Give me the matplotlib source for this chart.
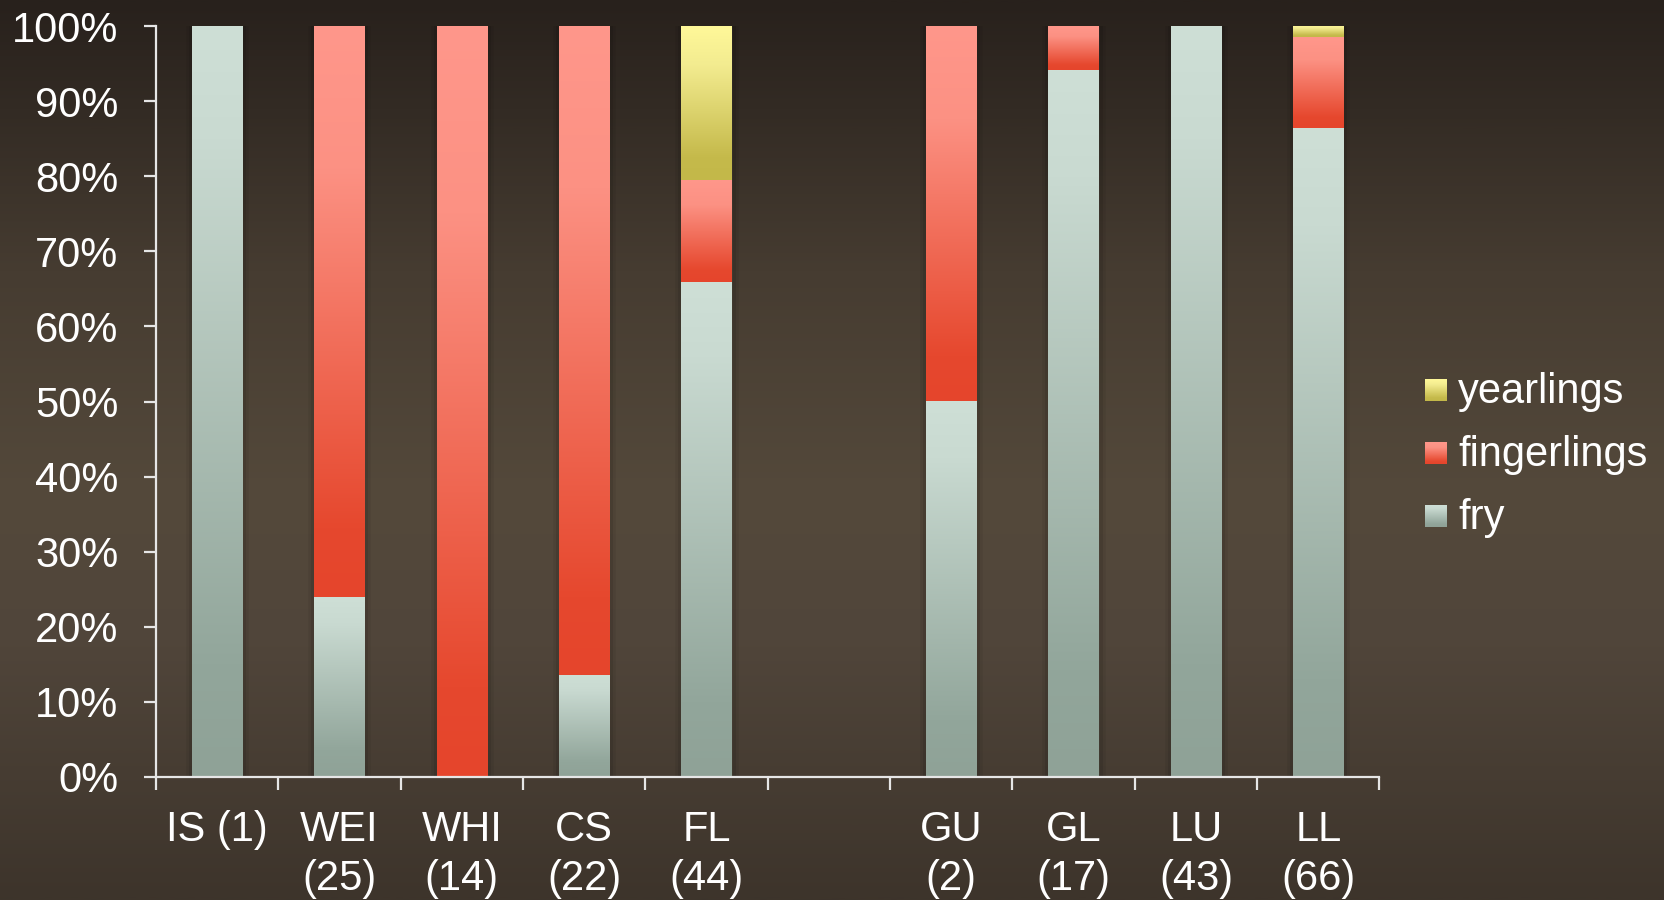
import numpy as np
import matplotlib
matplotlib.use("Agg")
import matplotlib.pyplot as plt
from matplotlib.colors import LinearSegmentedColormap
from matplotlib.patches import Rectangle
import matplotlib.patheffects as pe

plt.rcParams['font.family'] = ['Liberation Sans', 'DejaVu Sans']

# Stock composition (% of fish released), blank slot separates the two groups
categories = ["IS (1)", "WEI\n(25)", "WHI\n(14)", "CS\n(22)", "FL\n(44)", "",
              "GU\n(2)", "GL\n(17)", "LU\n(43)", "LL\n(66)"]
fry = [100.0, 24.0, 0.0, 13.6, 65.9, 0.0, 50.0, 94.1, 100.0, 86.4]
fingerlings = [0.0, 76.0, 100.0, 86.4, 13.6, 0.0, 50.0, 5.9, 0.0, 12.1]
yearlings = [0.0, 0.0, 0.0, 0.0, 20.5, 0.0, 0.0, 0.0, 0.0, 1.5]
series_names = ["fry", "fingerlings", "yearlings"]
y_ticks = [0, 10, 20, 30, 40, 50, 60, 70, 80, 90, 100]

W, H, DPI = 1665, 900, 100
fig = plt.figure(figsize=(W / DPI, H / DPI), dpi=DPI)

# Background: vertical brown gradient
bg = fig.add_axes([0, 0, 1, 1], zorder=-10)
bg_cmap = LinearSegmentedColormap.from_list(
    "bg", [(0.0, "#28211c"), (0.12, "#332b24"), (0.30, "#463c31"),
           (0.55, "#54493b"), (0.72, "#50453a"), (1.0, "#3d342b")])
bg.imshow(np.linspace(0, 1, 512).reshape(-1, 1), cmap=bg_cmap, aspect="auto",
          extent=[0, 1, 0, 1], origin="upper")
bg.set_axis_off()

# Segment gradients (top colour -> bottom colour)
grad = {
    "fry": LinearSegmentedColormap.from_list(
        "fry", [(0.0, "#cedfd6"), (0.15, "#c9dad1"), (0.85, "#92a69b"), (1.0, "#8fa297")]),
    "fingerlings": LinearSegmentedColormap.from_list(
        "fing", [(0.0, "#ff978b"), (0.25, "#fc9183"), (0.88, "#e6482e"), (1.0, "#e5452c")]),
    "yearlings": LinearSegmentedColormap.from_list(
        "year", [(0.0, "#fff899"), (0.25, "#f3ec90"), (0.85, "#c5ba4b"), (1.0, "#c3b849")]),
}

ax = fig.add_axes([155.8 / W, 1 - 777 / H, (1379.5 - 155.8) / W, (777 - 26) / H])
ax.set_facecolor("none")
x = np.arange(len(categories))

bar_w = 0.41
vals = {"fry": fry, "fingerlings": fingerlings, "yearlings": yearlings}
gimg = np.linspace(0, 1, 256).reshape(-1, 1)
shadow = [pe.Stroke(linewidth=9, foreground="black", alpha=0.06),
          pe.Stroke(linewidth=5, foreground="black", alpha=0.08),
          pe.Normal()]

# Soft shadow behind each full bar
totals = np.array(fry) + np.array(fingerlings) + np.array(yearlings)
for i in x:
    if totals[i] > 0:
        r = Rectangle((i - bar_w / 2, 0), bar_w, totals[i], facecolor="#8fa297",
                      edgecolor="none", zorder=2)
        r.set_path_effects(shadow)
        ax.add_patch(r)

# Stacked segments, each filled with its own vertical gradient
base = np.zeros(len(categories))
for name in series_names:
    v = np.array(vals[name])
    for i in x:
        if v[i] <= 0:
            continue
        x0, x1 = i - bar_w / 2, i + bar_w / 2
        y0, y1 = base[i], base[i] + v[i]
        ax.imshow(gimg, cmap=grad[name], aspect="auto", origin="upper",
                  extent=[x0, x1, y0, y1], zorder=3, interpolation="bilinear")
    base += v
ax.set_xlim(-0.5, len(categories) - 0.5)
ax.set_ylim(0, 100)

# Axes styling
axis_col = "#e6e6e6"
for s in ["top", "right"]:
    ax.spines[s].set_visible(False)
for s in ["left", "bottom"]:
    ax.spines[s].set_color(axis_col)
    ax.spines[s].set_linewidth(1.6)
    ax.spines[s].set_zorder(5)

ax.set_yticks(y_ticks)
ax.set_yticklabels([f"{t}%" for t in y_ticks])
ax.tick_params(axis="y", direction="out", length=9, width=1.6, color=axis_col,
               labelcolor="white", labelsize=30, pad=18)

ax.set_xticks(np.arange(-0.5, len(categories)), minor=False)
ax.set_xticklabels([])
ax.tick_params(axis="x", which="major", direction="out", length=9.5, width=1.6,
               color=axis_col)
ax.set_xticks(x, minor=True)
ax.set_xticklabels(categories, minor=True)
ax.tick_params(axis="x", which="minor", length=0, labelcolor="white",
               labelsize=30, pad=24)
for lbl in ax.get_xticklabels(minor=True):
    lbl.set_linespacing(1.28)

# Legend drawn in pixel coordinates
lg = fig.add_axes([0, 0, 1, 1], zorder=10)
lg.set_axis_off()
lg.patch.set_visible(False)
legend_rows = ["yearlings", "fingerlings", "fry"]
for k, name in enumerate(legend_rows):
    cy = 390 + 63 * k
    lg.imshow(gimg, cmap=grad[name], aspect="auto", origin="upper",
              extent=[1425, 1447, cy + 11, cy - 11], interpolation="bilinear")
    lg.text(1458, cy + 13, name, color="white", fontsize=30, va="baseline", ha="left")
lg.set_xlim(0, W)
lg.set_ylim(H, 0)

fig.savefig("out.png", dpi=DPI)
